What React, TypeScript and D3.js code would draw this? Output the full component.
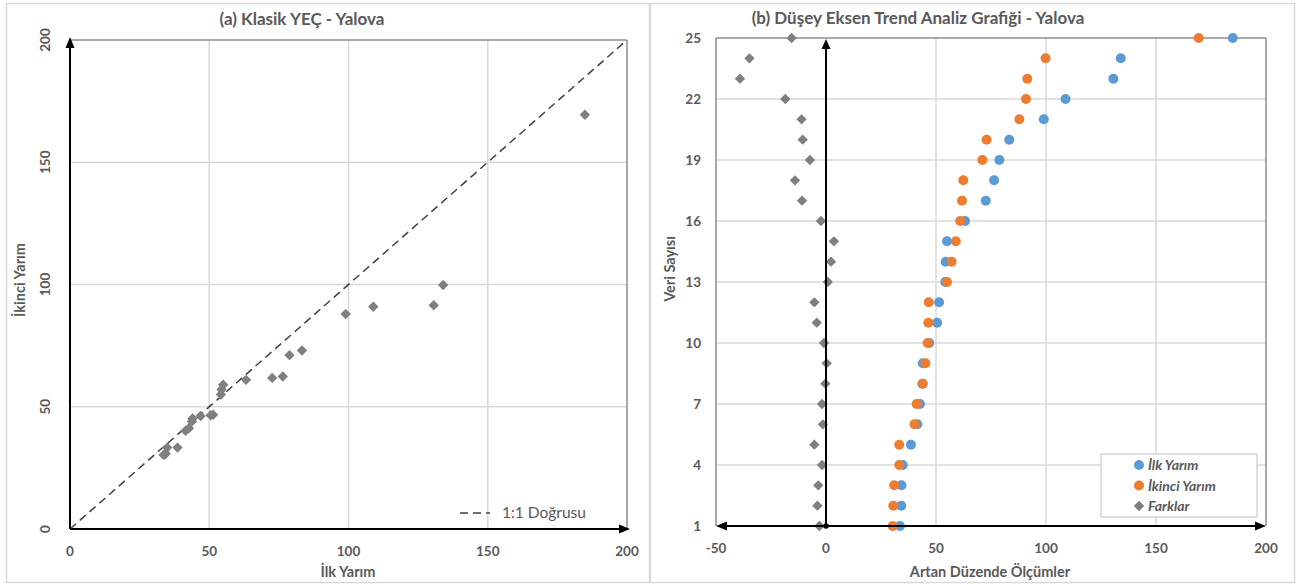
import React from "react";
import * as d3 from "d3";

const ranks = d3.range(1, 26);
const ilkYarim = [33.6, 34.2, 34.3, 34.9, 38.6, 41.5, 42.7, 43.8, 44.0, 46.9, 50.5, 51.4, 54.2, 54.4, 55.0, 63.2, 72.6, 76.4, 78.8, 83.3, 99.0, 108.9, 130.6, 134.0, 184.9];
const ikinciYarim = [30.3, 30.6, 31.0, 33.3, 33.3, 40.2, 41.2, 44.0, 45.2, 46.2, 46.5, 46.7, 55.0, 57.1, 59.0, 61.0, 61.8, 62.4, 71.1, 73.0, 87.9, 90.9, 91.5, 99.8, 169.4];
const farklar = [-3.0, -3.9, -3.5, -1.8, -5.3, -1.4, -1.8, -0.3, 0.3, -0.9, -4.2, -5.3, 0.8, 2.3, 3.6, -2.3, -10.9, -14.1, -7.3, -10.6, -11.1, -18.5, -39.1, -34.8, -15.6];

const leftTicks = [0, 50, 100, 150, 200];
const rightXTicks = [-50, 0, 50, 100, 150, 200];
const rightYTicks = [1, 4, 7, 10, 13, 16, 19, 22, 25];

const BLUE = "#5B9BD5";
const ORANGE = "#ED7D31";
const GRAY = "#7F7F7F";
const TEXT = "#595959";
const GRID = "#D9D9D9";
const FONT = "Lato, 'Open Sans', sans-serif";

const diamond = (cx: number, cy: number, r = 5.2) =>
  `M${cx},${cy - r}L${cx + r},${cy}L${cx},${cy + r}L${cx - r},${cy}Z`;

export default function App() {
  const xL = d3.scaleLinear().domain([0, 200]).range([70, 627]);
  const yL = d3.scaleLinear().domain([0, 200]).range([529, 40]);
  const xR = d3.scaleLinear().domain([-50, 200]).range([716, 1266]);
  const yR = d3.scaleLinear().domain([1, 25]).range([526, 38]);

  const leftPts = ilkYarim.map((v, i) => [v, ikinciYarim[i]]);

  return (
    <svg width={1298} height={585} style={{ position: "absolute", left: 0, top: 0, fontFamily: FONT }}>
      <rect x={0} y={0} width={1298} height={585} fill="#fff" />
      {/* panel borders */}
      <rect x={6.5} y={3.5} width={643} height={579} fill="none" stroke={GRID} strokeWidth={1.5} />
      <rect x={650.5} y={3.5} width={644} height={579} fill="none" stroke={GRID} strokeWidth={1.5} />

      {/* ===== Left panel ===== */}
      <text x={302} y={25} textAnchor="middle" fontSize={17} fontWeight="bold" fill={TEXT}>(a) Klasik YEÇ - Yalova</text>
      {leftTicks.slice(1, 4).map((t) => (
        <g key={"lg" + t}>
          <line x1={xL(t)} x2={xL(t)} y1={yL(200)} y2={yL(0)} stroke={GRID} strokeWidth={1.5} />
          <line x1={xL(0)} x2={xL(200)} y1={yL(t)} y2={yL(t)} stroke={GRID} strokeWidth={1.5} />
        </g>
      ))}
      <line x1={xL(0)} x2={xL(200)} y1={yL(200)} y2={yL(200)} stroke="#8C8C8C" strokeWidth={1.5} />
      <line x1={xL(200)} x2={xL(200)} y1={yL(200)} y2={yL(0)} stroke="#8C8C8C" strokeWidth={1.5} />
      <line x1={xL(0)} y1={yL(0)} x2={xL(200)} y2={yL(200)} stroke="#404040" strokeWidth={1.5} strokeDasharray="8,5" />
      {leftPts.map(([a, b], i) => (
        <path key={"lp" + i} d={diamond(xL(a), yL(b))} fill={GRAY} />
      ))}
      {/* axes */}
      <line x1={xL(0)} x2={xL(0)} y1={yL(0)} y2={yL(200) + 8} stroke="#000" strokeWidth={2} />
      <path d={`M${xL(0)},${yL(200) - 3}L${xL(0) + 4.5},${yL(200) + 8}L${xL(0) - 4.5},${yL(200) + 8}Z`} fill="#000" />
      <line x1={xL(0)} x2={xL(200) - 8} y1={yL(0)} y2={yL(0)} stroke="#000" strokeWidth={2} />
      <path d={`M${xL(200) + 3},${yL(0)}L${xL(200) - 8},${yL(0) - 4.5}L${xL(200) - 8},${yL(0) + 4.5}Z`} fill="#000" />
      {leftTicks.map((t) => (
        <text key={"lxt" + t} x={xL(t)} y={556} textAnchor="middle" fontSize={13.5} fontWeight="bold" fill={TEXT}>{t}</text>
      ))}
      {leftTicks.map((t) => (
        <text key={"lyt" + t} transform={`translate(50,${yL(t)}) rotate(-90)`} textAnchor="middle" fontSize={13.5} fontWeight="bold" fill={TEXT}>{t}</text>
      ))}
      <text x={348} y={577} textAnchor="middle" fontSize={14.5} fontWeight="bold" fill={TEXT}>İlk Yarım</text>
      <text transform={`translate(25,280) rotate(-90)`} textAnchor="middle" fontSize={14.5} fontWeight="bold" fill={TEXT}>İkinci Yarım</text>
      <line x1={460} x2={490} y1={513} y2={513} stroke="#404040" strokeWidth={1.5} strokeDasharray="8,5" />
      <text x={502} y={518} fontSize={15.5} fill={TEXT}>1:1 Doğrusu</text>

      {/* ===== Right panel ===== */}
      <text x={918} y={24} textAnchor="middle" fontSize={17} fontWeight="bold" fill={TEXT}>(b) Düşey Eksen Trend Analiz Grafiği - Yalova</text>
      {[50, 100, 150].map((t) => (
        <line key={"rgx" + t} x1={xR(t)} x2={xR(t)} y1={yR(25)} y2={yR(1)} stroke={GRID} strokeWidth={1.5} />
      ))}
      {rightYTicks.slice(1, 8).map((t) => (
        <line key={"rgy" + t} x1={xR(-50)} x2={xR(200)} y1={yR(t)} y2={yR(t)} stroke={GRID} strokeWidth={1.5} />
      ))}
      <line x1={xR(-50)} x2={xR(200)} y1={yR(25)} y2={yR(25)} stroke="#8C8C8C" strokeWidth={1.5} />
      <line x1={xR(200)} x2={xR(200)} y1={yR(25)} y2={yR(1)} stroke="#8C8C8C" strokeWidth={1.5} />
      <line x1={xR(-50)} x2={xR(-50)} y1={yR(25)} y2={yR(1)} stroke="#8C8C8C" strokeWidth={1.5} />
      {ranks.map((r, i) => (
        <circle key={"b" + r} cx={xR(ilkYarim[i])} cy={yR(r)} r={5} fill={BLUE} />
      ))}
      {ranks.map((r, i) => (
        <circle key={"o" + r} cx={xR(ikinciYarim[i])} cy={yR(r)} r={5} fill={ORANGE} />
      ))}
      {ranks.map((r, i) => (
        <path key={"f" + r} d={diamond(xR(farklar[i]), yR(r))} fill={GRAY} />
      ))}
      {/* axes */}
      <line x1={xR(0)} x2={xR(0)} y1={yR(1)} y2={yR(25) + 8} stroke="#000" strokeWidth={2} />
      <path d={`M${xR(0)},${yR(25) + 1}L${xR(0) + 4.5},${yR(25) + 11}L${xR(0) - 4.5},${yR(25) + 11}Z`} fill="#000" />
      <circle cx={xR(0)} cy={yR(1)} r={2.8} fill="#000" />
      <line x1={xR(-50) + 8} x2={xR(200) - 8} y1={yR(1)} y2={yR(1)} stroke="#000" strokeWidth={2} />
      <path d={`M${xR(200)},${yR(1)}L${xR(200) - 11},${yR(1) - 4.5}L${xR(200) - 11},${yR(1) + 4.5}Z`} fill="#000" />
      <path d={`M${xR(-50)},${yR(1)}L${xR(-50) + 11},${yR(1) - 4.5}L${xR(-50) + 11},${yR(1) + 4.5}Z`} fill="#000" />
      {rightXTicks.map((t) => (
        <text key={"rxt" + t} x={xR(t)} y={553} textAnchor="middle" fontSize={13.5} fontWeight="bold" fill={TEXT}>{t}</text>
      ))}
      {rightYTicks.map((t) => (
        <text key={"ryt" + t} x={701} y={yR(t) + 4.5} textAnchor="end" fontSize={13.5} fontWeight="bold" fill={TEXT}>{t}</text>
      ))}
      <text x={990} y={577} textAnchor="middle" fontSize={14.5} fontWeight="bold" fill={TEXT}>Artan Düzende Ölçümler</text>
      <text transform={`translate(675,269) rotate(-90)`} textAnchor="middle" fontSize={14.5} fontWeight="bold" fill={TEXT}>Veri Sayısı</text>

      {/* legend */}
      <rect x={1101} y={454} width={156} height={63} fill="#fff" stroke="#BFBFBF" strokeWidth={1} />
      <circle cx={1139} cy={465} r={5} fill={BLUE} />
      <text x={1148} y={470} fontSize={14} fontWeight="bold" fontStyle="italic" fill={TEXT}>İlk Yarım</text>
      <circle cx={1139} cy={485.5} r={5} fill={ORANGE} />
      <text x={1148} y={490.5} fontSize={14} fontWeight="bold" fontStyle="italic" fill={TEXT}>İkinci Yarım</text>
      <path d={diamond(1139, 506)} fill={GRAY} />
      <text x={1148} y={511} fontSize={14} fontWeight="bold" fontStyle="italic" fill={TEXT}>Farklar</text>
    </svg>
  );
}
